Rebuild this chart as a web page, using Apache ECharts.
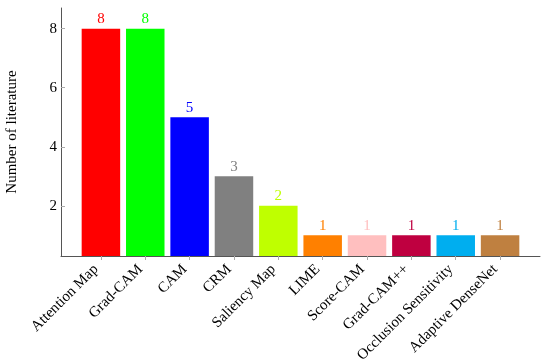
<!DOCTYPE html>
<html><head><meta charset="utf-8">
<script src="https://cdn.jsdelivr.net/npm/echarts@6/dist/echarts.min.js"></script>
<style>html,body{margin:0;padding:0;background:#fff}#c{width:550px;height:361px}</style>
</head><body><div id="c"></div>
<script>
const categories = ['Attention Map','Grad-CAM','CAM','CRM','Saliency Map','LIME','Score-CAM','Grad-CAM++','Occlusion Sensitivity','Adaptive DenseNet'];
const values = [8,8,5,3,2,1,1,1,1,1];
const colors = ['#ff0000','#00ff00','#0000ff','#808080','#bfff00','#ff8000','#ffbfbf','#bf0040','#00aeef','#bf8040'];
const yTicks = [2,4,6,8];
const font = 'Liberation Serif';

const chart = echarts.init(document.getElementById('c'));
chart.setOption({
  animation:false,
  grid:{left:61,right:10,top:8,bottom:105,containLabel:false,outerBoundsMode:'none'},
  xAxis:{type:'value',min:-0.9,max:9.9,
    axisLine:{show:true,onZero:false,lineStyle:{color:'#555',width:1}},
    splitLine:{show:false},
    axisTick:{show:true,customValues:categories.map((c,i)=>i),length:4,inside:false,lineStyle:{color:'#aaa'}},
    axisLabel:{customValues:categories.map((c,i)=>i),rotate:45,margin:6,padding:[0,7,0,0],fontFamily:font,fontSize:15,color:'#000',
      formatter:v=>categories[Math.round(v)]}
  },
  yAxis:{type:'value',min:0.3,max:8.7,
    name:'Number of literature',nameLocation:'middle',nameGap:41,nameRotate:90,
    nameTextStyle:{fontFamily:font,fontSize:15,color:'#000'},
    axisLine:{show:true,onZero:false,lineStyle:{color:'#555',width:1}},
    splitLine:{show:false},
    axisTick:{show:true,customValues:yTicks,inside:true,length:4,lineStyle:{color:'#aaa'}},
    axisLabel:{customValues:yTicks,fontFamily:font,fontSize:15,color:'#000',margin:4}
  },
  series:[{type:'bar',barWidth:38.5,
    data:values.map((v,i)=>({value:[i,v],itemStyle:{color:colors[i]},
      label:{show:true,position:'top',distance:2,color:colors[i],fontFamily:font,fontSize:15,formatter:String(v)}}))
  }]
});
</script></body></html>
